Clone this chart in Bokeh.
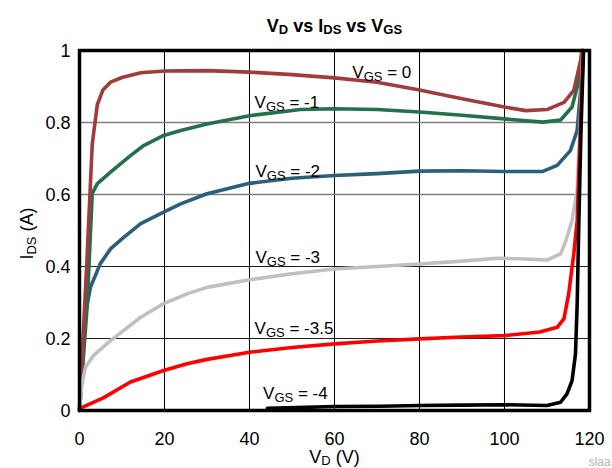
import math
from bokeh.plotting import figure
from bokeh.models import Range1d, Label
from bokeh.embed import file_html
from bokeh.resources import INLINE

# ---------------- data ----------------
vd_0 = [0, 1.8, 3.0, 4.2, 5.5, 7.3, 10, 14.4, 20, 30, 40, 50, 60, 70, 80, 90, 100, 105, 110, 114, 116.3, 117.9, 118.3]
id_0 = [0, 0.43, 0.74, 0.85, 0.89, 0.912, 0.925, 0.938, 0.943, 0.944, 0.940, 0.933, 0.924, 0.912, 0.890, 0.866, 0.843, 0.833, 0.836, 0.856, 0.889, 0.972, 1.0]

vd_1 = [0, 1.8, 3.0, 4.2, 7.3, 12, 15.1, 19.8, 23.8, 30, 40, 52, 60, 70, 80, 90, 100, 109, 113.2, 115.9, 117.5, 118.2]
id_1 = [0, 0.29, 0.603, 0.63, 0.662, 0.708, 0.736, 0.764, 0.778, 0.796, 0.819, 0.836, 0.838, 0.836, 0.829, 0.820, 0.810, 0.801, 0.807, 0.843, 0.917, 1.0]

vd_2 = [0, 0.7, 1.4, 2.6, 4.9, 7.3, 10.4, 14.4, 19.8, 23.8, 30, 40, 50, 60, 70, 80, 90, 100, 109, 112.4, 115.5, 117.1, 117.9, 118.4]
id_2 = [0, 0.16, 0.269, 0.343, 0.408, 0.449, 0.481, 0.519, 0.551, 0.574, 0.602, 0.631, 0.645, 0.653, 0.658, 0.665, 0.666, 0.664, 0.664, 0.681, 0.722, 0.778, 0.889, 1.0]

vd_3 = [0, 0.5, 1.4, 3.3, 7.3, 14.4, 19.8, 25.3, 30, 40, 50, 60, 70, 80, 90, 98.3, 105, 110, 113.2, 114.4, 115.9, 117.1, 117.9, 118.4]
id_3 = [0, 0.07, 0.12, 0.153, 0.194, 0.259, 0.297, 0.324, 0.342, 0.363, 0.380, 0.393, 0.400, 0.407, 0.415, 0.423, 0.421, 0.418, 0.435, 0.470, 0.528, 0.611, 0.825, 1.0]

vd_35 = [0, 5.6, 12, 19.8, 25.3, 30, 40, 50, 60, 70, 80, 90, 100, 108.3, 112.4, 114, 115.1, 116.3, 117.1, 118.5]
id_35 = [0.005, 0.035, 0.079, 0.111, 0.130, 0.142, 0.162, 0.175, 0.185, 0.193, 0.199, 0.204, 0.208, 0.218, 0.231, 0.255, 0.324, 0.435, 0.528, 1.0]

vd_4 = [44.2, 60, 70.8, 80, 90, 100, 110, 113.2, 114.7, 115.9, 116.7, 117.1, 117.5, 118.0, 118.6]
id_4 = [0.006, 0.011, 0.012, 0.014, 0.015, 0.016, 0.014, 0.023, 0.046, 0.083, 0.157, 0.296, 0.528, 0.78, 1.0]

x_ticks = [0, 20, 40, 60, 80, 100, 120]
x_tick_labels = ["0", "20", "40", "60", "80", "100", "120"]
y_ticks = [0, 0.2, 0.4, 0.6, 0.8, 1.0]
y_tick_labels = ["0", "0.2", "0.4", "0.6", "0.8", "1"]

series = [
    ("-2", vd_2, id_2, "#2b5f7a"),
    ("-1", vd_1, id_1, "#23704a"),
    ("0", vd_0, id_0, "#a03c3c"),
    ("-3", vd_3, id_3, "#c0c0c0"),
    ("-3.5", vd_35, id_35, "#ff0000"),
    ("-4", vd_4, id_4, "#000000"),
]

# label anchor positions (data units: left of text, baseline)
curve_labels = [("0", 64.2, 0.940), ("-1", 41.2, 0.856), ("-2", 41.4, 0.665),
                ("-3", 41.4, 0.424), ("-3.5", 41.2, 0.227), ("-4", 43.2, 0.046)]

FONT = "Liberation Sans"
X0, X1 = 0, 120
Y0, Y1 = 0, 1

# The frame spans the whole canvas; the plot box, grid and tick labels are
# drawn in data units so that titles with subscripts are never clipped.
p = figure(width=612, height=468, output_backend="svg", toolbar_location=None,
           x_range=Range1d(-18.588, 125.412), y_range=Range1d(-0.1611, 1.1389),
           x_axis_location=None, y_axis_location=None,
           min_border=0, min_border_left=0, min_border_right=0,
           min_border_top=0, min_border_bottom=0)
p.outline_line_color = None
p.grid.visible = False
p.background_fill_color = "white"
p.border_fill_color = "white"

# grid lines
inner_x = [v for v in x_ticks if X0 < v < X1]
p.segment(x0=inner_x, y0=[Y0] * len(inner_x), x1=inner_x, y1=[Y1] * len(inner_x),
          line_color="black", line_width=1)
dark_y = [v for v in y_ticks if Y0 < v <= 0.4]
gray_y = [v for v in y_ticks if 0.4 < v < Y1]
p.segment(x0=[X0] * len(dark_y), y0=dark_y, x1=[X1] * len(dark_y), y1=dark_y,
          line_color="#202020", line_width=1)
p.segment(x0=[X0] * len(gray_y), y0=gray_y, x1=[X1] * len(gray_y), y1=gray_y,
          line_color="#808080", line_width=1.6)

for name, xs, ys, col in series:
    p.line(xs, ys, line_color=col, line_width=3.6, line_join="round", line_cap="round")

# plot box
p.quad(left=[X0], right=[X1], bottom=[Y0], top=[Y1], fill_color=None,
       line_color="black", line_width=3.5, line_join="miter")

# tick labels
for v, t in zip(x_ticks, x_tick_labels):
    p.add_layout(Label(x=v, y=Y0, y_offset=-28, text=t, text_font=FONT, text_font_size="18px",
                       text_align="center", text_baseline="alphabetic", text_color="black"))
for v, t in zip(y_ticks, y_tick_labels):
    p.add_layout(Label(x=X0, y=v, x_offset=-9, text=t, text_font=FONT, text_font_size="18px",
                       text_align="right", text_baseline="middle", text_color="black"))

# ---------- text with subscripts ----------
REG = {' ': 278, '(': 333, ')': 333, '-': 333, '.': 278, '=': 584, 'A': 667, 'D': 722,
       'G': 778, 'I': 278, 'S': 667, 'V': 667, 's': 500, 'v': 500}
for d in "0123456789":
    REG[d] = 556
BOLD = dict(REG)
BOLD.update({'s': 556, 'v': 556})


def tw(t, size, bold=False):
    tab = BOLD if bold else REG
    return sum(tab.get(c, 556) for c in t) * size / 1000.0


def place(pieces, x, y, main, sub, bold=False, center=False, rotate=False, shift=4, color="black"):
    total = sum(tw(t, sub if s else main, bold) for t, s in pieces)
    cur = -total / 2.0 if center else 0.0
    for t, s in pieces:
        size = sub if s else main
        lead = len(t) - len(t.lstrip(' '))
        trail = len(t) - len(t.rstrip(' '))
        cur += tw(' ' * lead, size, bold)
        txt = t.strip()
        if rotate:
            xo, yo, ang = (shift if s else 0), cur, math.pi / 2
        else:
            xo, yo, ang = cur, (-shift if s else 0), 0
        p.add_layout(Label(x=x, y=y, x_offset=xo, y_offset=yo, angle=ang, text=txt,
                           text_font=FONT, text_font_size=f"{size}px",
                           text_font_style="bold" if bold else "normal",
                           text_color=color, text_align="left", text_baseline="alphabetic"))
        cur += tw(txt, size, bold) + tw(' ' * trail, size, bold)


place([("V", False), ("D", True), (" vs I", False), ("DS", True), (" vs V", False), ("GS", True)],
      60, 1.0694, 18, 13, bold=True, center=True)
place([("V", False), ("D", True), (" (V)", False)], 60, -0.1278, 18, 13, center=True, shift=3.5)
place([("I", False), ("DS", True), (" (A)", False)], -12.3, 0.4917, 18, 13, center=True, rotate=True)

for val, lx, ly in curve_labels:
    place([("V", False), ("GS", True), (" = " + val, False)], lx, ly, 17, 13)

p.add_layout(Label(x=119.8, y=-0.1444, text="slaa", text_font=FONT, text_font_size="12px",
                   text_color="#b4b4b4", text_baseline="alphabetic"))

open("out.html", "w").write(file_html(p, INLINE))
